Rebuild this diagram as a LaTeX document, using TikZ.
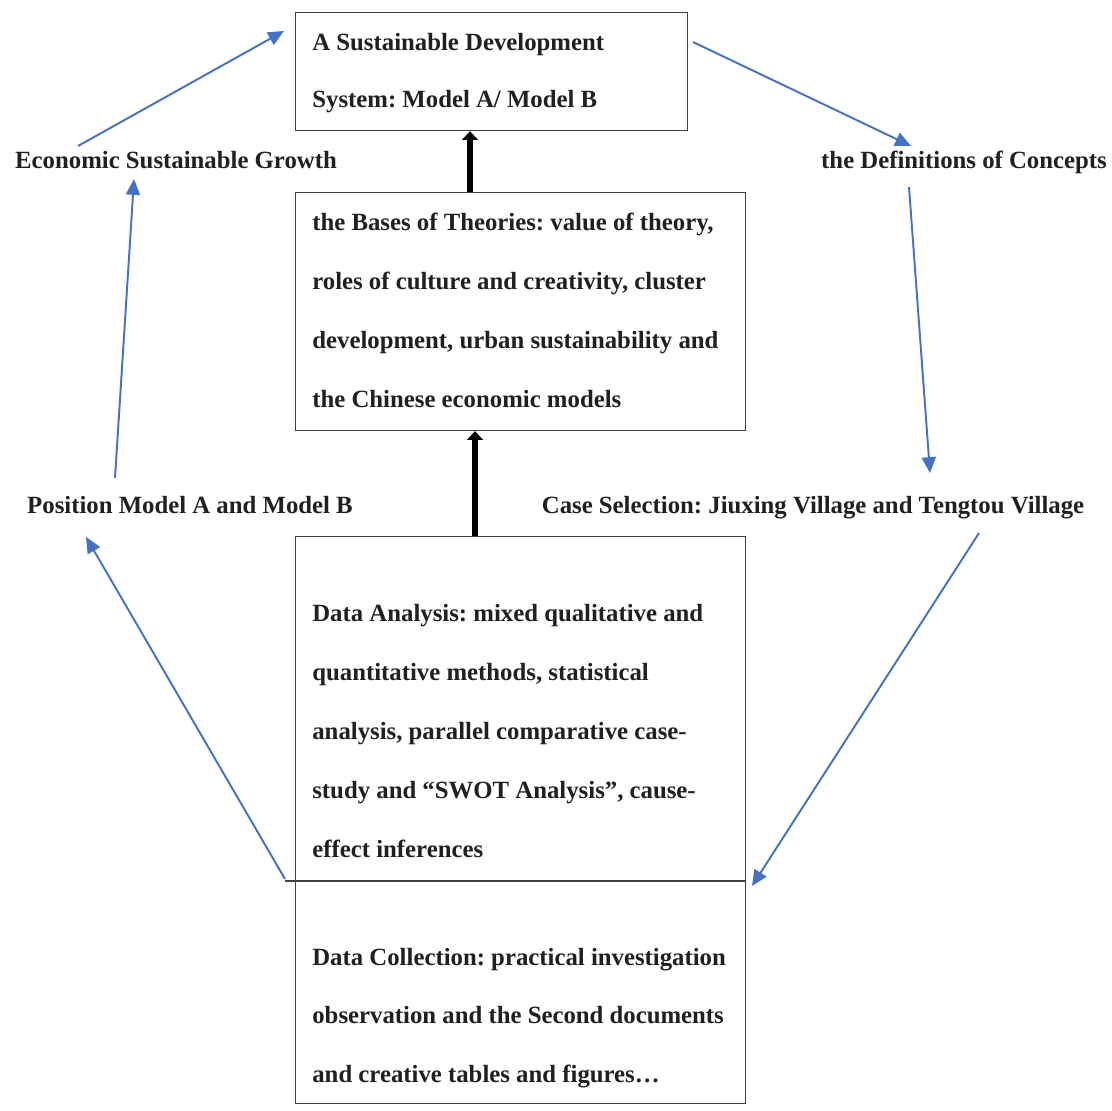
\documentclass[tikz,border=0pt]{standalone}
\usepackage{fontspec}
\setmainfont{Liberation Serif}
\usetikzlibrary{arrows.meta,calc}
\definecolor{flow}{HTML}{4472C4}
\definecolor{ink}{HTML}{202020}
\definecolor{frame}{HTML}{404040}
\frenchspacing
\begin{document}
\begin{tikzpicture}[x=0.02cm,y=-0.02cm,
  txt/.style={anchor=base west,inner sep=0pt,text=ink,font=\fontsize{14.1}{16}\selectfont\bfseries},
  lbl/.style={anchor=base,inner sep=0pt,text=ink,font=\fontsize{14.1}{16}\selectfont\bfseries},
  box/.style={draw=frame,line width=0.7pt,inner sep=0pt,anchor=north west},
  cyc/.style={draw=flow,line width=1.1pt,-{Triangle[length=9pt,width=8pt]}},
  up/.style={draw=black,line width=3.2pt,-{Triangle[length=5pt,width=9pt]}}]
\useasboundingbox[fill=white] (0,0) rectangle (1112,1111);

% boxes
\node[box,minimum width=7.84cm,minimum height=2.36cm] (sys) at (295,12) {};
\node[box,minimum width=9cm,minimum height=4.76cm] (theo) at (295,192) {};
\node[box,minimum width=9cm,minimum height=11.34cm] (data) at (295,536) {};
\coordinate (divL) at (285,881);
\coordinate (divR) at (745,881);
\draw[draw=frame,line width=0.7pt] (divL) -- (divR);

% box texts
\node[txt] (s1) at (312,51) {A Sustainable Development};
\node[txt] (s2) at (312,108) {System: Model A/ Model B};

\node[txt] (t1) at (312,231) {the Bases of Theories: value of theory,};
\node[txt] (t2) at (312,290) {roles of culture and creativity, cluster};
\node[txt] (t3) at (312,349) {development, urban sustainability and};
\node[txt] (t4) at (312,407) {the Chinese economic models};

\node[txt] (a1) at (312,621) {Data Analysis: mixed qualitative and};
\node[txt] (a2) at (312,680) {quantitative methods, statistical};
\node[txt] (a3) at (312,739) {analysis, parallel comparative case-};
\node[txt] (a4) at (312,798) {study and “SWOT Analysis”, cause-};
\node[txt] (a5) at (312,857) {effect inferences};

\node[txt] (c1) at (312,965) {Data Collection: practical investigation};
\node[txt] (c2) at (312,1023) {observation and the Second documents};
\node[txt] (c3) at (312,1082) {and creative tables and figures…};

% stage labels
\node[lbl] (econ) at (176,169) {Economic Sustainable Growth};
\node[lbl] (defs) at (964,169) {the Definitions of Concepts};
\node[lbl] (pos) at (190,513) {Position Model A and Model B};
\node[lbl] (cases) at (813,513) {Case Selection: Jiuxing Village and Tengtou Village};

% arrow ends
\coordinate (e1) at (78,146);   \coordinate (e2) at (284,31);
\coordinate (e3) at (693,42);   \coordinate (e4) at (911,146);
\coordinate (e5) at (909,187);  \coordinate (e6) at (930,473);
\coordinate (e7) at (979,533);  \coordinate (e8) at (752,886);
\coordinate (e9) at (285,879);  \coordinate (e10) at (86,537);
\coordinate (e11) at (115,478); \coordinate (e12) at (134,179);

\draw[cyc] (e1) -- (e2);
\draw[cyc] (e3) -- (e4);
\draw[cyc] (e5) -- (e6);
\draw[cyc] (e7) -- (e8);
\draw[cyc] (e9) -- (e10);
\draw[cyc] (e11) -- (e12);

% upward flow between boxes
\draw[up] (theo.north -| 470,0) -- (sys.south -| 470,0);
\draw[up] (data.north -| 475,0) -- (theo.south -| 475,0);
\end{tikzpicture}
\end{document}
